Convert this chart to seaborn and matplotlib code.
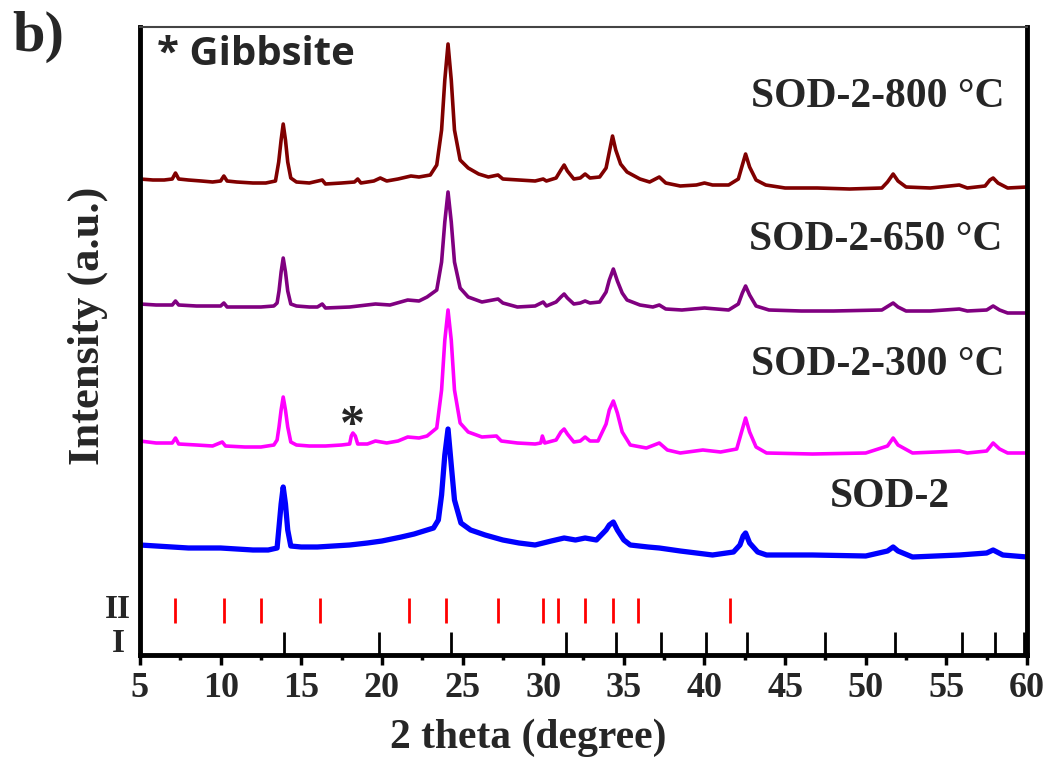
import numpy as np
import pandas as pd
import matplotlib
matplotlib.use("Agg")
import matplotlib.pyplot as plt
import seaborn as sns
from matplotlib.ticker import MultipleLocator

# ---------------- data ----------------
samples = ["SOD-2-800 °C", "SOD-2-650 °C", "SOD-2-300 °C", "SOD-2"]
colors = ["#800000", "#800080", "#FF00FF", "#0000FF"]
offsets = [465, 340, 200, 95]          # stacking offsets (a.u.)

theta_800 = [5.0, 5.8, 6.5, 7.0, 7.2, 7.4, 8.0, 8.8, 9.5, 10.0, 10.2, 10.4, 11.0, 12.0, 12.8,
             13.4, 13.6, 13.75, 13.88, 14.02, 14.16, 14.35, 14.7, 15.5, 16.3, 16.5, 17.5, 18.3,
             18.5, 18.7, 19.5, 19.9, 20.3, 21.0, 21.8, 22.3, 23.0, 23.4, 23.7, 23.9, 24.1, 24.3,
             24.5, 24.85, 25.35, 26.0, 26.6, 27.2, 27.5, 28.5, 29.5, 30.0, 30.2, 30.8, 31.1, 31.3,
             31.5, 31.9, 32.3, 32.6, 32.9, 33.5, 33.9, 34.1, 34.3, 34.5, 34.8, 35.2, 36.0, 36.6,
             37.2, 37.6, 38.5, 39.5, 40.0, 40.5, 41.5, 42.1, 42.35, 42.55, 42.8, 43.2, 43.8, 45.0,
             47.0, 49.0, 51.0, 51.35, 51.7, 52.0, 52.5, 54.0, 55.8, 56.3, 57.4, 57.7, 57.9, 58.2,
             58.8, 60.0]
int_800 = [11, 10, 10, 11, 17, 11, 10, 9, 8, 9, 14, 9, 8, 7, 7,
           9, 28, 50, 66, 50, 28, 12, 8, 7, 10, 6, 7, 8,
           11, 7, 9, 12, 9, 11, 14, 13, 15, 25, 60, 110, 146, 110,
           60, 30, 22, 16, 13, 15, 11, 10, 9, 11, 9, 12, 20, 25,
           19, 11, 12, 16, 12, 13, 22, 38, 54, 40, 26, 18, 11, 8,
           13, 7, 4, 5, 7, 5, 5, 11, 25, 36, 23, 10, 5, 2,
           2, 1, 2, 8, 16, 9, 3, 2, 5, 2, 4, 10, 12, 7,
           2, 3]

theta_650 = [5.0, 6.0, 7.0, 7.2, 7.4, 8.5, 10.0, 10.2, 10.4, 11.5, 12.5, 13.3, 13.5, 13.62, 13.75,
             13.88, 14.02, 14.16, 14.35, 14.7, 15.5, 16.0, 16.3, 16.5, 18.0, 19.6, 20.5, 21.6,
             22.3, 22.8, 23.4, 23.7, 23.9, 24.1, 24.3, 24.5, 24.85, 25.35, 26.2, 27.2, 27.5, 28.4,
             29.5, 30.0, 30.2, 30.8, 31.1, 31.3, 31.5, 31.9, 32.3, 32.6, 32.9, 33.5, 33.9, 34.1,
             34.35, 34.6, 34.9, 35.2, 36.0, 36.8, 37.2, 37.6, 38.6, 40.0, 41.5, 42.1, 42.35, 42.55,
             42.8, 43.2, 44.0, 46.0, 48.0, 51.0, 51.4, 51.7, 52.0, 52.5, 54.0, 55.8, 56.3, 57.5,
             57.9, 58.3, 58.8, 60.0]
int_650 = [11, 10, 10, 14, 10, 9, 9, 12, 8, 8, 8, 9, 12, 24, 43,
           57, 43, 24, 11, 9, 8, 8, 11, 7, 8, 11, 10, 15,
           14, 18, 25, 53, 93, 123, 93, 53, 27, 18, 13, 16, 12, 8,
           9, 13, 9, 13, 18, 21, 17, 11, 12, 14, 12, 13, 23, 35,
           46, 34, 22, 15, 10, 8, 10, 6, 5, 7, 5, 11, 22, 29,
           20, 9, 5, 4, 4, 5, 9, 12, 8, 4, 4, 6, 4, 5,
           9, 5, 2, 2]

theta_300 = [5.0, 6.0, 7.0, 7.2, 7.4, 8.5, 9.5, 10.1, 10.3, 11.5, 12.5, 13.3, 13.5, 13.62, 13.75,
             13.88, 14.02, 14.16, 14.35, 14.7, 15.5, 16.5, 17.5, 18.0, 18.1, 18.2, 18.35, 18.5,
             19.1, 19.6, 20.3, 21.0, 21.6, 22.3, 22.8, 23.4, 23.7, 23.9, 24.1, 24.3, 24.5, 24.85,
             25.35, 26.2, 27.1, 27.4, 28.4, 29.5, 29.85, 29.95, 30.1, 30.8, 31.1, 31.3, 31.5, 31.9,
             32.3, 32.6, 32.9, 33.4, 33.9, 34.1, 34.35, 34.6, 34.9, 35.4, 36.4, 37.2, 37.7, 38.5,
             39.9, 41.0, 42.0, 42.3, 42.55, 42.8, 43.2, 43.85, 46.7, 50.0, 51.35, 51.7, 52.0, 52.9,
             55.8, 56.3, 57.5, 57.9, 58.3, 58.8, 60.0]
int_300 = [14, 12, 12, 17, 11, 10, 9, 13, 9, 8, 8, 10, 15, 28, 45,
           58, 45, 28, 13, 10, 9, 9, 10, 11, 19, 22, 19, 11,
           11, 14, 12, 14, 18, 17, 19, 27, 65, 115, 145, 115, 65, 32,
           23, 18, 19, 14, 12, 11, 12, 19, 12, 15, 23, 26, 21, 13,
           14, 18, 14, 14, 31, 45, 54, 42, 23, 10, 7, 12, 5, 2,
           5, 3, 6, 23, 37, 23, 8, 2, 1, 2, 9, 17, 10, 2,
           4, 2, 4, 12, 6, 2, 2]

theta_sod = [5.0, 6.0, 7.0, 8.0, 9.0, 10.0, 11.0, 12.0, 12.95, 13.5, 13.62, 13.75, 13.88, 14.02,
             14.16, 14.35, 15.0, 16.0, 17.0, 18.0, 19.1, 20.0, 21.2, 22.0, 23.2, 23.5, 23.7, 23.9,
             24.1, 24.3, 24.5, 24.9, 25.5, 26.4, 27.5, 28.5, 29.5, 30.5, 31.3, 32.0, 32.6, 33.3,
             33.9, 34.1, 34.35, 34.6, 35.0, 35.4, 36.5, 37.2, 38.5, 40.5, 41.8, 42.2, 42.4, 42.55,
             42.8, 43.3, 43.85, 46.7, 50.0, 51.35, 51.7, 52.0, 52.9, 55.8, 57.5, 57.9, 58.5, 60.0]
int_sod = [15, 14, 13, 12, 12, 12, 11, 10, 10, 12, 33, 56, 73, 56,
           30, 14, 13, 13, 14, 15, 17, 19, 23, 26, 32, 40, 65, 105,
           131, 95, 60, 37, 30, 25, 20, 17, 15, 19, 22, 20, 22, 20,
           30, 35, 38, 30, 20, 15, 13, 12, 9, 5, 8, 15, 24, 27,
           17, 8, 5, 5, 4, 9, 13, 9, 3, 5, 7, 10, 5, 3]

# reference patterns (stick positions)
ref_II = [7.2, 10.2, 12.5, 16.15, 21.7, 24.0, 27.2, 30.0, 30.9, 32.6, 34.3, 35.9, 41.6]
ref_I = [13.9, 19.8, 24.3, 31.4, 34.5, 37.3, 40.1, 42.65, 47.45, 51.8, 56.0, 58.0, 59.8]
gibbsite_peak = (18.2, 22)   # on the SOD-2-300 °C pattern
xticks = [5, 10, 15, 20, 25, 30, 35, 40, 45, 50, 55, 60]

# ---------------- figure ----------------
sns.set_style("ticks")
plt.rcParams["font.family"] = ["Liberation Serif", "DejaVu Serif"]
plt.rcParams["font.weight"] = "bold"

W, H = 1053, 757
fig = plt.figure(figsize=(W / 100, H / 100), dpi=100)
ax = fig.add_axes([140 / W, 102 / H, 887 / W, 628 / H])

thetas = [theta_800, theta_650, theta_300, theta_sod]
ints = [int_800, int_650, int_300, int_sod]
frames = []
for name, t, i, off in zip(samples, thetas, ints, offsets):
    frames.append(pd.DataFrame({"theta": t, "intensity": np.array(i, float) + off, "sample": name}))
df = pd.concat(frames, ignore_index=True)

sns.lineplot(data=df, x="theta", y="intensity", hue="sample", hue_order=samples,
             palette=colors, sort=False, estimator=None, linewidth=2.6,
             legend=False, ax=ax)
for ln, c in zip(ax.lines, colors):
    ln.set_solid_joinstyle("round")
    ln.set_solid_capstyle("round")
    if c == "#0000FF":
        ln.set_linewidth(3.8)

# stick patterns
ax.vlines(ref_II, 32, 57, color="#FF0000", linewidth=2.0)
ax.vlines(ref_I, 0, 23, color="black", linewidth=2.0)

ax.set_xlim(5, 60)
ax.set_ylim(0, 628)
ax.set_yticks([])
ax.set_xticks(xticks)
ax.xaxis.set_minor_locator(MultipleLocator(2.5))
ax.tick_params(axis="x", which="major", direction="out", length=7, width=2.5,
               labelsize=26, pad=5, color="black")
ax.tick_params(axis="x", which="minor", direction="out", length=3.5, width=2.5, color="black")
for lab in ax.get_xticklabels():
    lab.set_fontweight("bold")
ax.set_xlabel("")
ax.set_ylabel("")

for s in ["left", "bottom", "right"]:
    ax.spines[s].set_linewidth(3.5)
    ax.spines[s].set_color("black")
ax.spines["top"].set_linewidth(1.5)
ax.spines["top"].set_color("#444444")

# sample labels
ax.text(58.63, 547.7, samples[0], ha="right", va="baseline", fontsize=30, fontweight="bold")
ax.text(58.45, 405, samples[1], ha="right", va="baseline", fontsize=30, fontweight="bold")
ax.text(58.63, 280, samples[2], ha="right", va="baseline", fontsize=30, fontweight="bold")
ax.text(51.5, 148, samples[3], ha="center", va="baseline", fontsize=30, fontweight="bold")

# gibbsite marker
ax.annotate("*", xy=(gibbsite_peak[0], gibbsite_peak[1] + offsets[2]), xytext=(0, -4),
            textcoords="offset points", ha="center", va="baseline",
            fontsize=36, fontweight="bold")

# legend-like note
fig.text(157 / W, 1 - 65 / H, "* Gibbsite", ha="left", va="baseline",
         fontsize=29, fontweight="bold", family=["Open Sans", "DejaVu Sans"])

# panel label
fig.text(12 / W, 1 - 51 / H, "b)", ha="left", va="baseline", fontsize=42, fontweight="bold")

# stick labels
fig.text(118 / W, 1 - 609 / H, "II", ha="center", va="center", fontsize=24, fontweight="bold")
fig.text(118 / W, 1 - 644 / H, "I", ha="center", va="center", fontsize=24, fontweight="bold")

# axis titles
fig.text(528 / W, 1 - 738 / H, "2 theta (degree)", ha="center", va="center",
         fontsize=30, fontweight="bold")
fig.text(88 / W, 1 - 326 / H, "Intensity (a.u.)", ha="center", va="center",
         rotation=90, fontsize=32, fontweight="bold")

fig.savefig("out.png", dpi=100)
